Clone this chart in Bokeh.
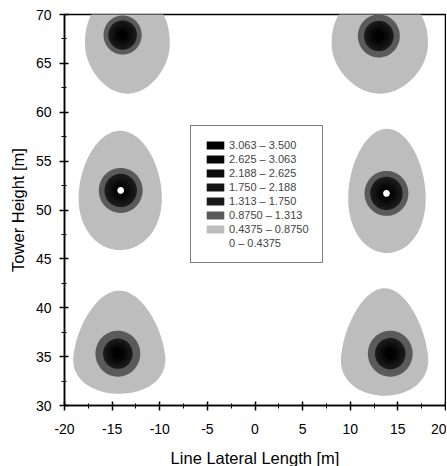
import numpy as np
from bokeh.plotting import figure
from bokeh.models import Legend, LegendItem, FixedTicker, Range1d
from bokeh.embed import file_html
from bokeh.resources import INLINE

# ---- data ----
level_labels = ["0 – 0.4375", "0.4375 – 0.8750", "0.8750 – 1.313", "1.313 – 1.750",
                "1.750 – 2.188", "2.188 – 2.625", "2.625 – 3.063", "3.063 – 3.500"]
level_colors = ["#ffffff", "#bdbdbd", "#5a5a5a", "#1a1a1a",
                "#141414", "#0d0d0d", "#070707", "#000000"]

# peaks (centre of the dark cores), six conductors
core_x = [-13.9, 13.0, -14.1, 13.8, -14.4, 14.2]
core_y = [67.9, 67.8, 52.0, 51.7, 35.3, 35.3]

# outer 0.4375 contour (egg shaped)
outer_cx = [-13.4, 13.1, -14.15, 13.85, -14.25, 13.6]
outer_cy = [66.3, 66.3, 51.8, 51.8, 35.5, 35.5]
outer_rx = [4.4, 5.0, 4.35, 4.05, 4.75, 4.5]
outer_ry_top = [6.0, 6.0, 6.3, 6.5, 6.25, 6.5]
outer_ry_bot = [4.4, 4.4, 5.9, 6.2, 4.3, 4.5]
outer_taper = [-0.15, -0.15, 0.1, 0.1, 0.2, 0.2]

# radii of the inner contours around each core
r_0875 = [2.0, 2.2, 2.3, 2.3, 2.35, 2.35]
r_1313 = [1.5, 1.55, 1.7, 1.7, 1.55, 1.6]
r_1750 = [1.25, 1.3, 1.4, 1.4, 1.3, 1.3]
r_2188 = [1.0, 1.05, 1.1, 1.1, 1.05, 1.05]
r_2625 = [0.75, 0.8, 0.85, 0.85, 0.8, 0.8]
r_3063 = [0.5, 0.55, 0.6, 0.6, 0.55, 0.55]
r_over = [0.0, 0.0, 0.35, 0.35, 0.0, 0.0]   # above 3.5 (left blank)

x_ticks = [-20, -15, -10, -5, 0, 5, 10, 15, 20]
x_tick_labels = ["-20", "-15", "-10", "-5", "0", "5", "10", "15", "20"]
y_ticks = [30, 35, 40, 45, 50, 55, 60, 65, 70]
y_tick_labels = ["30", "35", "40", "45", "50", "55", "60", "65", "70"]

FONT = "Liberation Sans"

t = np.linspace(0, 2 * np.pi, 120)


def egg(cx, cy, rx, ryt, ryb, k):
    s = np.sin(t)
    ys = cy + np.where(s > 0, ryt, ryb) * s
    xs = cx + rx * np.cos(t) * (1 - k * s)
    return list(xs), list(ys)


def circ(cx, cy, r):
    return list(cx + r * np.cos(t)), list(cy + r * np.sin(t))


p = figure(frame_width=381, frame_height=391, output_backend="svg", toolbar_location=None,
           x_range=Range1d(-20, 20), y_range=Range1d(30, 70),
           min_border_left=64, min_border_right=1, min_border_top=14, min_border_bottom=60)
p.xgrid.visible = False
p.ygrid.visible = False
p.background_fill_color = "white"
p.outline_line_color = "black"
p.outline_line_width = 1.5

renderers = []
# level 0 (blank)
r0 = p.patches(xs=[], ys=[], fill_color=level_colors[0], line_color=None)
renderers.append(r0)

# level 1: outer egg
xs, ys = [], []
for i in range(len(core_x)):
    a, b = egg(outer_cx[i], outer_cy[i], outer_rx[i], outer_ry_top[i], outer_ry_bot[i], outer_taper[i])
    xs.append(a); ys.append(b)
renderers.append(p.patches(xs=xs, ys=ys, fill_color=level_colors[1], line_color=None))

for lev, radii in zip(range(2, 8), [r_0875, r_1313, r_1750, r_2188, r_2625, r_3063]):
    xs, ys = [], []
    for i in range(len(core_x)):
        a, b = circ(core_x[i], core_y[i], radii[i])
        xs.append(a); ys.append(b)
    renderers.append(p.patches(xs=xs, ys=ys, fill_color=level_colors[lev], line_color=None))

xs, ys = [], []
for i in range(len(core_x)):
    if r_over[i] > 0:
        a, b = circ(core_x[i], core_y[i], r_over[i])
        xs.append(a); ys.append(b)
p.patches(xs=xs, ys=ys, fill_color="white", line_color=None)

items = [LegendItem(label=level_labels[i], renderers=[renderers[i]]) for i in range(7, -1, -1)]
legend = Legend(items=items, location=(126, 142), glyph_width=22, glyph_height=10,
                label_height=10, label_width=80, label_standoff=3, spacing=2, padding=13,
                margin=0, border_line_color="black", border_line_width=1,
                label_text_font=FONT, label_text_font_size="11px",
                background_fill_color="white", background_fill_alpha=1.0)
p.add_layout(legend)

for ax, ticks, labels in [(p.xaxis[0], x_ticks, x_tick_labels), (p.yaxis[0], y_ticks, y_tick_labels)]:
    minor = [ticks[j] + 2.5 for j in range(len(ticks) - 1)]
    ax.ticker = FixedTicker(ticks=ticks, minor_ticks=minor)
    ax.major_label_overrides = {tk: lb for tk, lb in zip(ticks, labels)}
    ax.axis_line_width = 1.5
    ax.major_tick_line_width = 1.5
    ax.minor_tick_line_width = 1
    ax.major_tick_in = 4
    ax.major_tick_out = 5
    ax.minor_tick_in = 2
    ax.minor_tick_out = 3
    ax.major_label_text_font = FONT
    ax.major_label_text_font_size = "14px"
    ax.major_label_text_color = "black"
    ax.axis_label_text_font = FONT
    ax.axis_label_text_font_size = "16.5px"
    ax.axis_label_text_font_style = "normal"
    ax.axis_label_text_color = "black"

p.xaxis.axis_label = "Line Lateral Length [m]"
p.yaxis.axis_label = "Tower Height [m]"
p.xaxis.major_label_standoff = 13
p.yaxis.major_label_standoff = 8
p.xaxis.axis_label_standoff = 12
p.yaxis.axis_label_standoff = 6

open("out.html", "w").write(file_html(p, INLINE))
